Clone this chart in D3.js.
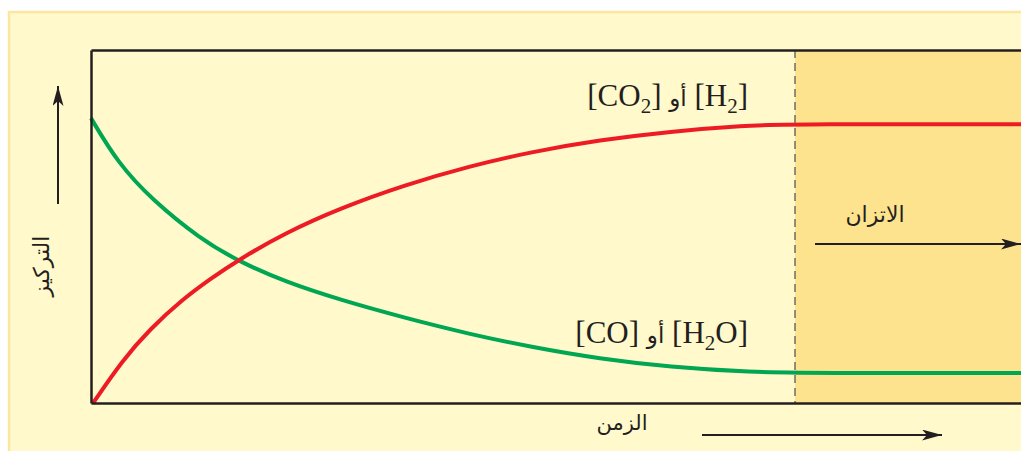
<!DOCTYPE html>
<html>
<head>
<meta charset="utf-8">
<script src="https://cdn.jsdelivr.net/npm/d3@7"></script>
<style>
  html, body { margin: 0; padding: 0; background: #ffffff; }
  svg { display: block; }
</style>
</head>
<body>
<svg id="chart" width="1021" height="451"></svg>
<script>
// Reaction time (arbitrary units); equilibrium is reached at t = 10
const timeMax = 14;
const equilibriumTime = 10;

// Product concentration [CO2] / [H2]
const productTime = [0.03, 0.45, 0.84, 1.29, 1.69, 2.09, 2.76, 3.54, 4.46, 5.38, 6.24, 7.23, 8.22, 9.29, 9.93, 14];
const productConc = [0, 0.122, 0.210, 0.292, 0.351, 0.405, 0.482, 0.552, 0.618, 0.671, 0.711, 0.745, 0.769, 0.786, 0.790, 0.790];

// Reactant concentration [CO] / [H2O]
const reactantTime = [0, 0.38, 0.87, 1.55, 2.09, 2.76, 3.54, 4.46, 5.38, 6.24, 7.23, 8.22, 9.36, 10.36, 14];
const reactantConc = [0.807, 0.680, 0.575, 0.465, 0.402, 0.343, 0.292, 0.241, 0.195, 0.159, 0.125, 0.102, 0.087, 0.085, 0.085];

// Text labels
const productLabel = ["[CO", "2", "] ", "أو", " [H", "2", "]"];
const reactantLabel = ["[CO] ", "أو", " [H", "2", "O]"];
const equilibriumLabel = "الاتزان";
const xAxisLabel = "الزمن";
const yAxisLabel = "التركيز";

const svg = d3.select("#chart");
const margin = { left: 91, top: 50, bottom: 403 };

const x = d3.scaleLinear().domain([0, timeMax]).range([margin.left, margin.left + 70.4 * timeMax]);
const y = d3.scaleLinear().domain([0, 1]).range([margin.bottom, margin.top]);

const defs = svg.append("defs");
defs.append("marker")
  .attr("id", "arrow")
  .attr("viewBox", "0 0 20 11")
  .attr("refX", 20).attr("refY", 5.5)
  .attr("markerWidth", 20).attr("markerHeight", 11)
  .attr("markerUnits", "userSpaceOnUse")
  .attr("orient", "auto")
  .append("path")
  .attr("d", "M0,0 L20,5.5 L0,11 L5,5.5 Z")
  .attr("fill", "#231f20");

// Background panel
svg.append("rect")
  .attr("x", 9).attr("y", 12)
  .attr("width", 1040).attr("height", 460)
  .attr("fill", "#fff9cc")
  .attr("stroke", "#fde6a0").attr("stroke-width", 2.5);

// Equilibrium region
svg.append("rect")
  .attr("x", x(equilibriumTime)).attr("y", y(1))
  .attr("width", x(timeMax) - x(equilibriumTime))
  .attr("height", y(0) - y(1))
  .attr("fill", "#fee38e");

// Dashed boundary of equilibrium
svg.append("line")
  .attr("x1", x(equilibriumTime)).attr("x2", x(equilibriumTime))
  .attr("y1", y(1)).attr("y2", y(0))
  .attr("stroke", "#58595b").attr("stroke-width", 1.3)
  .attr("stroke-dasharray", "8,5");

// Curves
const line = d3.line()
  .x(d => x(d[0]))
  .y(d => y(d[1]))
  .curve(d3.curveBasis);

svg.append("path")
  .datum(reactantTime.map((t, i) => [t, reactantConc[i]]))
  .attr("d", line)
  .attr("fill", "none")
  .attr("stroke", "#00a651")
  .attr("stroke-width", 4);

svg.append("path")
  .datum(productTime.map((t, i) => [t, productConc[i]]))
  .attr("d", line)
  .attr("fill", "none")
  .attr("stroke", "#ed1c24")
  .attr("stroke-width", 4);

// Frame built from axes without ticks
const frame = svg.append("g").attr("class", "frame");
frame.append("g")
  .attr("transform", `translate(0,${y(0)})`)
  .call(d3.axisBottom(x).tickValues([]).tickSizeOuter(0));
frame.append("g")
  .attr("transform", `translate(0,${y(1)})`)
  .call(d3.axisTop(x).tickValues([]).tickSizeOuter(0));
frame.append("g")
  .attr("transform", `translate(${x(0)},0)`)
  .call(d3.axisLeft(y).tickValues([]).tickSizeOuter(0));
frame.selectAll(".domain")
  .attr("stroke", "#231f20")
  .attr("stroke-width", 2.5);

// Curve labels
const serif = "'Liberation Serif', 'Times New Roman', serif";
const arabic = "'DejaVu Sans', sans-serif";

function chemLabel(parts, xRight, yBase) {
  const t = svg.append("text")
    .attr("x", xRight).attr("y", yBase)
    .attr("text-anchor", "end")
    .attr("direction", "ltr")
    .attr("font-family", serif)
    .attr("font-size", 31)
    .attr("fill", "#231f20");
  let sub = false;
  parts.forEach(p => {
    const ts = t.append("tspan").text(p);
    if (/^\d$/.test(p)) { ts.attr("dy", 7).attr("font-size", 21); sub = true; return; }
    if (sub) { ts.attr("dy", -7); sub = false; }
    if (/[\u0600-\u06FF]/.test(p)) ts.attr("font-family", arabic).attr("font-size", 23);
  });
}
chemLabel(productLabel, 748, 106);
chemLabel(reactantLabel, 748, 343);

// Equilibrium label and arrow
svg.append("text")
  .attr("x", 875).attr("y", 222)
  .attr("text-anchor", "middle")
  .attr("font-family", arabic)
  .attr("font-size", 22)
  .attr("fill", "#231f20")
  .text(equilibriumLabel);
svg.append("line")
  .attr("x1", 815).attr("x2", 1021)
  .attr("y1", 244).attr("y2", 244)
  .attr("stroke", "#231f20").attr("stroke-width", 2)
  .attr("marker-end", "url(#arrow)");

// Time axis label and arrow
svg.append("text")
  .attr("x", 622).attr("y", 430)
  .attr("text-anchor", "middle")
  .attr("font-family", arabic)
  .attr("font-size", 21)
  .attr("fill", "#231f20")
  .text(xAxisLabel);
svg.append("line")
  .attr("x1", 702).attr("x2", 942)
  .attr("y1", 435).attr("y2", 435)
  .attr("stroke", "#231f20").attr("stroke-width", 2)
  .attr("marker-end", "url(#arrow)");

// Concentration axis label and arrow
svg.append("text")
  .attr("transform", "translate(49,266) rotate(-90)")
  .attr("text-anchor", "middle")
  .attr("font-family", arabic)
  .attr("font-size", 22)
  .attr("fill", "#231f20")
  .text(yAxisLabel);
svg.append("line")
  .attr("x1", 58).attr("x2", 58)
  .attr("y1", 204).attr("y2", 86)
  .attr("stroke", "#231f20").attr("stroke-width", 2)
  .attr("marker-end", "url(#arrow)");
</script>
</body>
</html>
